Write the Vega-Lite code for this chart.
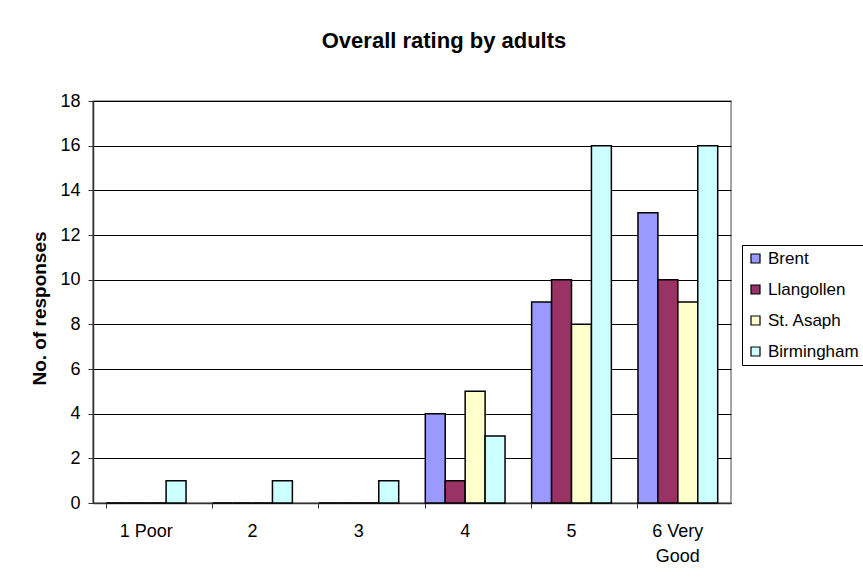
{
  "$schema": "https://vega.github.io/schema/vega-lite/v6.json",
  "width": 638,
  "height": 402,
  "autosize": {"type": "none"},
  "padding": {"left": 93, "top": 101, "right": 132, "bottom": 76},
  "background": "white",
  "title": {
    "text": "Overall rating by adults",
    "font": "Liberation Sans",
    "fontSize": 22,
    "fontWeight": "bold",
    "color": "black",
    "anchor": "middle",
    "offset": 39,
    "dx": 32
  },
  "data": {
    "values": [
      {"rating": "1 Poor", "site": "Brent", "count": 0},
      {"rating": "1 Poor", "site": "Llangollen", "count": 0},
      {"rating": "1 Poor", "site": "St. Asaph", "count": 0},
      {"rating": "1 Poor", "site": "Birmingham", "count": 1},
      {"rating": "2", "site": "Brent", "count": 0},
      {"rating": "2", "site": "Llangollen", "count": 0},
      {"rating": "2", "site": "St. Asaph", "count": 0},
      {"rating": "2", "site": "Birmingham", "count": 1},
      {"rating": "3", "site": "Brent", "count": 0},
      {"rating": "3", "site": "Llangollen", "count": 0},
      {"rating": "3", "site": "St. Asaph", "count": 0},
      {"rating": "3", "site": "Birmingham", "count": 1},
      {"rating": "4", "site": "Brent", "count": 4},
      {"rating": "4", "site": "Llangollen", "count": 1},
      {"rating": "4", "site": "St. Asaph", "count": 5},
      {"rating": "4", "site": "Birmingham", "count": 3},
      {"rating": "5", "site": "Brent", "count": 9},
      {"rating": "5", "site": "Llangollen", "count": 10},
      {"rating": "5", "site": "St. Asaph", "count": 8},
      {"rating": "5", "site": "Birmingham", "count": 16},
      {"rating": "6 Very Good", "site": "Brent", "count": 13},
      {"rating": "6 Very Good", "site": "Llangollen", "count": 10},
      {"rating": "6 Very Good", "site": "St. Asaph", "count": 9},
      {"rating": "6 Very Good", "site": "Birmingham", "count": 16}
    ]
  },
  "mark": {"type": "bar", "stroke": "black", "strokeWidth": 1.5},
  "encoding": {
    "x": {
      "field": "rating",
      "type": "nominal",
      "sort": ["1 Poor", "2", "3", "4", "5", "6 Very Good"],
      "scale": {"paddingInner": 0.25, "paddingOuter": 0.125},
      "axis": {
        "title": null,
        "labelAngle": 0,
        "labelFont": "Liberation Sans",
        "labelFontSize": 18,
        "labelColor": "black",
        "labelPadding": 14,
        "labelExpr": "datum.label == '6 Very Good' ? ['6 Very', 'Good'] : datum.label",
        "labelLineHeight": 25,
        "bandPosition": 0,
        "tickSize": 5,
        "tickColor": "#333333",
        "domainColor": "#333333",
        "domainWidth": 1.5,
        "grid": false
      }
    },
    "xOffset": {
      "field": "site",
      "type": "nominal",
      "sort": ["Brent", "Llangollen", "St. Asaph", "Birmingham"],
      "scale": {"paddingInner": 0, "paddingOuter": 0}
    },
    "y": {
      "field": "count",
      "type": "quantitative",
      "scale": {"domain": [0, 18], "nice": false},
      "axis": {
        "values": [0, 2, 4, 6, 8, 10, 12, 14, 16, 18],
        "title": "No. of responses",
        "titleFont": "Liberation Sans",
        "titleFontSize": 19,
        "titleFontWeight": "bold",
        "titleColor": "black",
        "titlePadding": 10,
        "titleY": 207,
        "labelFont": "Liberation Sans",
        "labelFontSize": 18,
        "labelColor": "black",
        "labelPadding": 8,
        "tickSize": 5,
        "tickColor": "#333333",
        "domainColor": "#333333",
        "domainWidth": 1.5,
        "grid": true,
        "gridColor": "black",
        "gridWidth": 1
      }
    },
    "color": {
      "field": "site",
      "type": "nominal",
      "scale": {
        "domain": ["Brent", "Llangollen", "St. Asaph", "Birmingham"],
        "range": ["#9999FF", "#993366", "#FFFFCC", "#CCFFFF"]
      },
      "legend": {
        "title": null,
        "orient": "none",
        "legendX": 649,
        "legendY": 144,
        "strokeColor": "black",
        "fillColor": "white",
        "padding": 5,
        "symbolType": "square",
        "symbolSize": 81,
        "symbolStrokeColor": "black",
        "symbolStrokeWidth": 1.2,
        "symbolOpacity": 1,
        "labelFont": "Liberation Sans",
        "labelFontSize": 17,
        "labelColor": "black",
        "labelOffset": 4,
        "rowPadding": 13
      }
    }
  },
  "config": {
    "view": {"stroke": "#888888", "strokeWidth": 1.5},
    "font": "Liberation Sans"
  }
}
